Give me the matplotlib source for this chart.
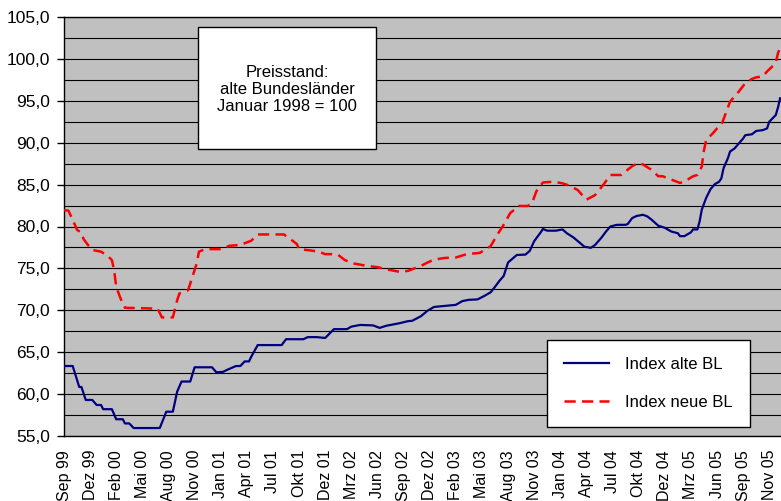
import matplotlib
matplotlib.use("Agg")
import matplotlib.pyplot as plt
from matplotlib.ticker import MultipleLocator, FuncFormatter
from matplotlib.patches import Rectangle

plt.rcParams['font.family'] = ['Liberation Sans', 'DejaVu Sans']

# Wochen seit Sep 99 (Kategorieachse, Beschriftung alle 12 Wochen)
tick_labels = ["Sep 99", "Dez 99", "Feb 00", "Mai 00", "Aug 00", "Nov 00", "Jan 01",
               "Apr 01", "Jul 01", "Okt 01", "Dez 01", "Mrz 02", "Jun 02", "Sep 02",
               "Dez 02", "Feb 03", "Mai 03", "Aug 03", "Nov 03", "Jan 04", "Apr 04",
               "Jul 04", "Okt 04", "Dez 04", "Mrz 05", "Jun 05", "Sep 05", "Nov 05"]

# Index alte BL
alte_wochen = [0, 4, 7, 8, 10, 13, 15, 17, 18, 22, 24, 27, 28, 30, 32, 44, 47, 50, 52, 54,
               58, 60, 68, 70, 73, 75, 79, 81, 83, 85, 86, 89, 100, 102, 110, 112, 116, 120,
               124, 130, 132, 136, 142, 145, 148, 151, 154, 158, 160, 164, 167, 170, 174,
               180, 183, 186, 190, 193, 196, 198, 200, 202, 204, 208, 212, 214, 216, 219,
               220, 222, 226, 229, 231, 234, 237, 239, 242, 244, 247, 249, 251, 254, 258,
               259, 261, 263, 266, 268, 270, 273, 276, 279, 282, 283, 285, 288, 289, 291,
               292, 293, 295, 297, 299, 301, 302, 303, 305, 306, 308, 310, 312, 313, 316,
               318, 321, 323, 324, 327, 328, 329]
alte_index = [63.35, 63.35, 60.85, 60.85, 59.3, 59.3, 58.7, 58.7, 58.2, 58.2, 57.0, 57.0,
              56.5, 56.5, 55.95, 55.95, 57.9, 57.9, 60.3, 61.5, 61.5, 63.2, 63.2, 62.6,
              62.65, 62.9, 63.35, 63.35, 63.9, 63.9, 64.45, 65.85, 65.85, 66.55, 66.55,
              66.8, 66.8, 66.7, 67.75, 67.75, 68.05, 68.25, 68.2, 67.9, 68.15, 68.3, 68.45,
              68.7, 68.75, 69.3, 69.95, 70.4, 70.5, 70.65, 71.1, 71.25, 71.3, 71.7, 72.15,
              72.8, 73.5, 74.1, 75.7, 76.6, 76.65, 77.1, 78.25, 79.3, 79.7, 79.5, 79.5,
              79.65, 79.2, 78.7, 78.05, 77.6, 77.45, 77.8, 78.7, 79.4, 80.0, 80.2, 80.2,
              80.3, 81.0, 81.25, 81.4, 81.2, 80.8, 80.1, 79.85, 79.4, 79.2, 78.85, 78.85,
              79.3, 79.65, 79.65, 80.6, 82.0, 83.4, 84.45, 85.05, 85.35, 85.75, 86.95,
              88.15, 88.95, 89.3, 89.9, 90.5, 90.9, 91.0, 91.4, 91.5, 91.7, 92.5, 93.3,
              94.2, 95.3]

# Index neue BL
neue_wochen = [0, 2, 4, 6, 8, 9, 11, 13, 17, 20, 22, 23, 24, 26, 28, 43, 45, 50, 52, 53,
               57, 59, 61, 62, 65, 72, 76, 81, 86, 89, 101, 104, 107, 108, 113, 117, 120,
               123, 126, 129, 133, 139, 144, 148, 154, 158, 160, 164, 167, 170, 175, 180,
               185, 191, 196, 199, 202, 205, 209, 213, 215, 217, 220, 225, 229, 232, 236,
               240, 244, 248, 251, 256, 261, 264, 266, 270, 273, 275, 279, 283, 285, 289,
               291, 293, 294, 295, 298, 300, 302, 304, 306, 310, 313, 316, 318, 321, 323,
               327, 328, 329]
neue_index = [81.95, 81.9, 80.8, 79.6, 79.25, 78.5, 77.8, 77.2, 77.0, 76.5, 76.0, 74.8,
              72.8, 71.4, 70.3, 70.2, 69.15, 69.15, 71.2, 72.0, 72.4, 74.0, 75.6, 77.0,
              77.3, 77.3, 77.7, 77.8, 78.3, 79.05, 79.05, 78.5, 77.9, 77.3, 77.15, 77.0,
              76.7, 76.7, 76.6, 76.0, 75.6, 75.3, 75.15, 74.9, 74.6, 74.7, 74.9, 75.3,
              75.7, 76.05, 76.25, 76.3, 76.7, 76.85, 77.65, 79.0, 80.2, 81.6, 82.45, 82.45,
              82.75, 84.2, 85.25, 85.35, 85.15, 84.9, 84.35, 83.2, 83.75, 85.05, 86.15,
              86.15, 87.2, 87.6, 87.4, 86.75, 86.0, 86.0, 85.6, 85.2, 85.35, 86.0, 86.15,
              87.15, 89.1, 90.3, 91.1, 91.7, 92.1, 93.5, 94.9, 96.1, 97.1, 97.6, 97.8,
              97.9, 98.5, 99.5, 100.7, 101.3]

fig = plt.figure(figsize=(7.81, 5.01), dpi=100)
ax = fig.add_axes([64 / 781, 65 / 501, 717 / 781, 419 / 501])
ax.set_facecolor("#C0C0C0")

ax.plot(alte_wochen, alte_index, color="#000080", lw=1.6, label="Index alte BL",
        solid_joinstyle="round", zorder=3)
ax.plot(neue_wochen, neue_index, color="#FF0000", lw=1.8, label="Index neue BL",
        dashes=(4.5, 2.5), zorder=3)

ax.set_xlim(0, 329.4)
ax.set_ylim(55, 105)
ax.set_xticks(range(0, 12 * len(tick_labels), 12))
ax.set_xticklabels(tick_labels, rotation=90, fontsize=11.5)
ax.yaxis.set_major_locator(MultipleLocator(5))
ax.yaxis.set_minor_locator(MultipleLocator(2.5))
ax.yaxis.set_major_formatter(FuncFormatter(lambda v, p: f"{v:.1f}".replace(".", ",")))
ax.tick_params(axis="y", which="major", length=5, width=1, pad=5, labelsize=12.5)
ax.tick_params(axis="y", which="minor", length=0)
ax.tick_params(axis="x", length=0, pad=10)
ax.grid(axis="y", which="both", color="black", lw=0.8)
ax.set_axisbelow(True)
for s in ["left", "bottom", "top"]:
    ax.spines[s].set_color("black")
    ax.spines[s].set_linewidth(1.0)
ax.spines["right"].set_visible(False)

# Textkasten
fig.patches.append(Rectangle((198 / 781, (501 - 149) / 501), 178 / 781, 122 / 501,
                             transform=fig.transFigure, facecolor="white",
                             edgecolor="black", lw=1, zorder=5))
fig.text(287 / 781, (501 - 89.5) / 501, "Preisstand:\nalte Bundesländer\nJanuar 1998 = 100",
         ha="center", va="center", fontsize=12, zorder=6)

leg = ax.legend(loc="upper left", bbox_to_anchor=((547 - 64) / 717, (436 - 340) / 419),
                fontsize=12, frameon=True, fancybox=False, edgecolor="black",
                framealpha=1, borderpad=1.0, labelspacing=1.4, handlelength=2.7,
                handletextpad=1.0, borderaxespad=0)
leg.get_frame().set_linewidth(1.0)

fig.savefig("out.png", dpi=100)
